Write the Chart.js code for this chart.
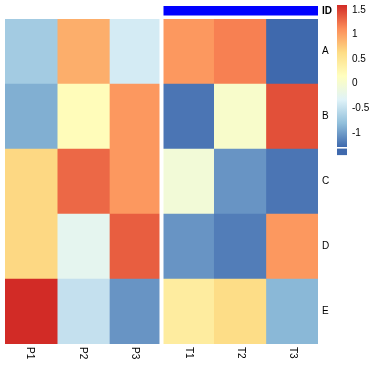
<!DOCTYPE html>
<html>
<head>
<meta charset="utf-8">
<script src="https://cdn.jsdelivr.net/npm/chart.js@4/dist/chart.umd.min.js"></script>
<style>
  html, body { margin: 0; padding: 0; background: #fff; }
  body { width: 373px; height: 367px; position: relative; overflow: hidden; }
  #heat { position: absolute; left: 0; top: 0; }
  #bar { position: absolute; left: 337px; top: 0; }
</style>
</head>
<body>
<canvas id="heat" width="337" height="367"></canvas>
<canvas id="bar" width="36" height="160"></canvas>
<script>
// ---- data ----
const rows = ['A', 'B', 'C', 'D', 'E'];
const columns = ['P1', 'P2', 'P3', 'T1', 'T2', 'T3'];
const P1 = [-0.70, -0.90, 0.66, 0.66, 1.60];
const P2 = [0.92, 0.20, 1.30, -0.25, -0.50];
const P3 = [-0.40, 1.05, 1.05, 1.35, -1.05];
const T1 = [1.05, -1.22, -0.05, -1.05, 0.42];
const T2 = [1.18, 0.05, -1.05, -1.18, 0.62];
const T3 = [-1.29, 1.42, -1.22, 1.05, -0.85];
const seriesValues = [P1, P2, P3, T1, T2, T3];
const annotationLabel = 'ID';
const legendTicks = [-1, -0.5, 0, 0.5, 1, 1.5];
const palette = ['#3F69AD', '#91BFDB', '#E0F3F8', '#FFFFBF', '#FDDC85', '#FC8D59', '#D22B26'];

const all = seriesValues.flat();
const vMin = Math.min(...all), vMax = Math.max(...all);

function hex2rgb(h) { return [1, 3, 5].map(i => parseInt(h.substr(i, 2), 16)); }
const palRGB = palette.map(hex2rgb);
function colorFor(v) {
  let t = (v - vMin) / (vMax - vMin);
  t = Math.max(0, Math.min(1, t));
  const s = t * (palRGB.length - 1);
  const i = Math.min(Math.floor(s), palRGB.length - 2);
  const f = s - i;
  const a = palRGB[i], b = palRGB[i + 1];
  const c = a.map((x, k) => Math.round(x + (b[k] - x) * f));
  return `rgb(${c[0]},${c[1]},${c[2]})`;
}

const FONT = '"Liberation Sans", Arial, Helvetica, sans-serif';
Chart.defaults.font.family = FONT;
Chart.defaults.color = '#000';

// ---- heatmap ----
const datasets = columns.map((name, c) => ({
  label: name,
  data: rows.map((r, i) => ({ y: r, x: 1, v: seriesValues[c][i] })),
  backgroundColor: ctx => colorFor(ctx.raw.v),
  borderWidth: 0,
  barPercentage: 1,
  categoryPercentage: 1,
  stack: 's'
}));

const decorPlugin = {
  id: 'decor',
  afterDatasetsDraw(chart) {
    const { ctx, chartArea } = chart;
    const xs = chart.scales.x;
    const split = xs.getPixelForValue(3);
    ctx.save();
    ctx.fillStyle = '#ffffff';
    ctx.fillRect(split - 2, chartArea.top - 1, 4, chartArea.bottom - chartArea.top + 2);
    ctx.fillStyle = '#0000FF';
    ctx.fillRect(split + 2, 6, xs.getPixelForValue(6) - split - 2, 9.5);
    ctx.fillStyle = '#000';
    ctx.font = 'bold 10px ' + FONT;
    ctx.textAlign = 'left';
    ctx.textBaseline = 'middle';
    ctx.fillText(annotationLabel, chartArea.right + 4, 11);
    ctx.font = '10px ' + FONT;
    columns.forEach((name, c) => {
      let x = xs.getPixelForValue(c + 0.5);
      if (c < 3) x -= 1; else x += 1;
      ctx.save();
      ctx.translate(x, chartArea.bottom + 3);
      ctx.rotate(Math.PI / 2);
      ctx.textAlign = 'left';
      ctx.textBaseline = 'middle';
      ctx.fillText(name, 0, 0);
      ctx.restore();
    });
    ctx.restore();
  }
};

new Chart(document.getElementById('heat'), {
  type: 'bar',
  data: { labels: rows, datasets },
  options: {
    indexAxis: 'y',
    responsive: false,
    animation: false,
    layout: { padding: { left: 5, top: 19, bottom: 23, right: 0 } },
    plugins: { legend: { display: false }, tooltip: { enabled: false } },
    scales: {
      x: { type: 'linear', stacked: true, min: 0, max: 6, display: false },
      y: {
        type: 'category', stacked: true, position: 'right',
        grid: { display: false, drawTicks: false }, border: { display: false },
        ticks: { padding: 4, font: { size: 10 }, color: '#000' },
        afterFit(scale) { scale.width = 19; scale.paddingTop = 0; scale.paddingBottom = 0; }
      }
    }
  },
  plugins: [decorPlugin]
});

// ---- colour legend ----
const legendPlugin = {
  id: 'legendExtra',
  afterDatasetsDraw(chart) {
    const { ctx, chartArea } = chart;
    const ys = chart.scales.y;
    const yb = ys.getPixelForValue(vMin);
    ctx.save();
    ctx.fillStyle = '#ffffff';
    ctx.fillRect(chartArea.left, yb, chartArea.right - chartArea.left, 1.6);
    ctx.fillStyle = palette[0];
    ctx.fillRect(chartArea.left, yb + 1.6, chartArea.right - chartArea.left, 6.5);
    ctx.restore();
  }
};

new Chart(document.getElementById('bar'), {
  type: 'bar',
  data: {
    labels: ['scale'],
    datasets: [{
      data: [[vMin, vMax]],
      backgroundColor: ctx => {
        const area = ctx.chart.chartArea;
        if (!area) return palette[3];
        const ys = ctx.chart.scales.y;
        const g = ctx.chart.ctx.createLinearGradient(0, ys.getPixelForValue(vMin), 0, ys.getPixelForValue(vMax));
        palette.forEach((c, i) => g.addColorStop(i / (palette.length - 1), c));
        return g;
      },
      borderWidth: 0,
      barPercentage: 1,
      categoryPercentage: 1
    }]
  },
  options: {
    responsive: false,
    animation: false,
    layout: { padding: { left: 0, top: 5, bottom: 13, right: 0 } },
    plugins: { legend: { display: false }, tooltip: { enabled: false } },
    scales: {
      x: { display: false },
      y: {
        type: 'linear', position: 'right', min: vMin, max: vMax,
        grid: { display: false, drawTicks: false }, border: { display: false },
        ticks: { padding: 5, font: { size: 10 }, color: '#000', callback: v => String(v) },
        afterBuildTicks(scale) { scale.ticks = legendTicks.map(v => ({ value: v })); },
        afterFit(scale) { scale.width = 26; scale.paddingTop = 0; scale.paddingBottom = 0; }
      }
    }
  },
  plugins: [legendPlugin]
});
</script>
</body>
</html>
